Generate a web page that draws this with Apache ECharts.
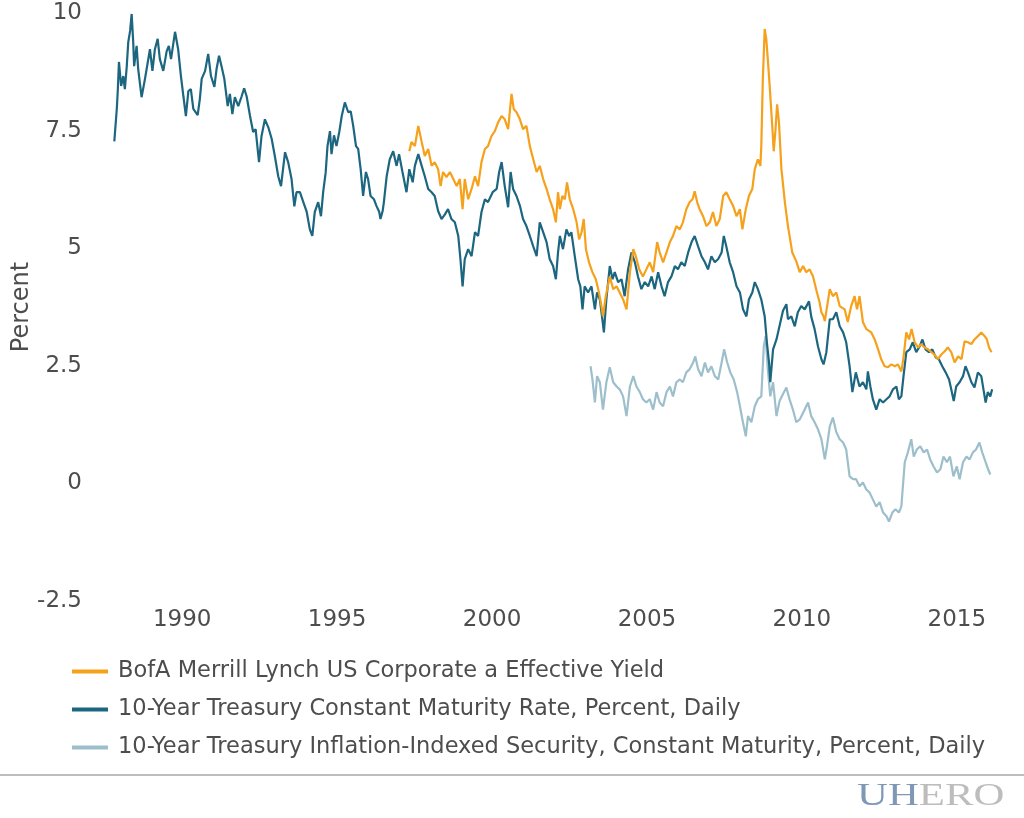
<!DOCTYPE html>
<html>
<head>
<meta charset="utf-8">
<script src="https://cdn.jsdelivr.net/npm/echarts@6/dist/echarts.min.js"></script>
<style>
html,body{margin:0;padding:0;background:#fff;}
#chart{width:1024px;height:818px;}
</style>
</head>
<body>
<div id="chart"></div>
<script>
// ---- Data (decimal years as placed on the chart, values in percent) ----
var seriesNames = [
  'BofA Merrill Lynch US Corporate a Effective Yield',
  '10-Year Treasury Constant Maturity Rate, Percent, Daily',
  '10-Year Treasury Inflation-Indexed Security, Constant Maturity, Percent, Daily'
];
var xTickLabels = [1990, 1995, 2000, 2005, 2010, 2015];
var yTickLabels = [-2.5, 0, 2.5, 5, 7.5, 10];

var corpYears = [1997.33,1997.40,1997.51,1997.62,1997.73,1997.83,1997.94,1998.05,1998.15,1998.26,1998.34,1998.42,1998.53,1998.64,1998.75,1998.86,1998.96,1999.05,1999.12,1999.23,1999.34,1999.45,1999.55,1999.66,1999.77,1999.87,1999.98,2000.09,2000.20,2000.31,2000.41,2000.52,2000.63,2000.70,2000.79,2000.90,2001.00,2001.11,2001.22,2001.33,2001.44,2001.54,2001.65,2001.76,2001.86,2001.97,2002.06,2002.13,2002.19,2002.27,2002.35,2002.42,2002.51,2002.62,2002.73,2002.81,2002.89,2002.96,2003.03,2003.13,2003.24,2003.35,2003.45,2003.53,2003.58,2003.67,2003.80,2003.91,2004.02,2004.12,2004.23,2004.34,2004.45,2004.56,2004.64,2004.75,2004.87,2004.98,2005.09,2005.20,2005.33,2005.41,2005.52,2005.63,2005.74,2005.84,2005.95,2006.06,2006.16,2006.27,2006.38,2006.47,2006.54,2006.62,2006.70,2006.81,2006.92,2007.03,2007.13,2007.24,2007.35,2007.46,2007.56,2007.67,2007.78,2007.89,2008.00,2008.08,2008.19,2008.29,2008.40,2008.48,2008.58,2008.66,2008.69,2008.74,2008.80,2008.85,2008.90,2008.96,2009.05,2009.09,2009.15,2009.20,2009.26,2009.34,2009.45,2009.55,2009.69,2009.82,2009.93,2010.04,2010.14,2010.25,2010.36,2010.47,2010.57,2010.63,2010.70,2010.74,2010.90,2011.00,2011.11,2011.22,2011.38,2011.48,2011.59,2011.70,2011.78,2011.86,2011.97,2012.08,2012.24,2012.35,2012.46,2012.56,2012.67,2012.78,2012.89,2013.00,2013.10,2013.21,2013.28,2013.37,2013.46,2013.54,2013.64,2013.75,2013.85,2013.96,2014.07,2014.18,2014.28,2014.39,2014.50,2014.61,2014.71,2014.82,2014.93,2015.04,2015.15,2015.25,2015.36,2015.47,2015.57,2015.68,2015.79,2015.90,2015.97,2016.04,2016.12];
var corpValues = [7.06,7.26,7.17,7.60,7.26,6.96,7.11,6.75,6.83,6.68,6.32,6.62,6.51,6.62,6.47,6.32,6.47,5.83,6.47,6.04,6.26,6.53,6.32,6.83,7.11,7.17,7.38,7.49,7.68,7.81,7.74,7.53,8.28,7.96,7.89,7.74,7.53,7.60,7.17,6.89,6.62,6.75,6.47,6.26,6.04,5.83,5.55,6.19,5.83,6.11,6.04,6.40,6.04,5.83,5.55,5.19,5.34,5.62,4.98,4.70,4.49,4.34,4.06,3.77,3.55,3.98,4.40,4.13,4.19,4.06,3.91,3.70,4.49,4.98,4.83,4.55,4.40,4.55,4.70,4.49,5.13,4.91,4.70,4.91,5.13,5.26,5.47,5.40,5.55,5.83,5.98,6.04,6.21,5.98,5.83,5.68,5.47,5.55,5.77,5.47,5.62,6.11,6.19,6.04,5.90,5.68,5.83,5.40,5.83,6.11,6.26,6.68,6.89,6.75,7.17,8.60,9.66,9.45,9.02,8.45,7.53,7.06,7.53,8.06,7.68,6.68,5.98,5.47,4.91,4.72,4.49,4.62,4.49,4.55,4.40,4.10,3.85,3.64,3.55,3.45,4.13,3.98,4.06,3.77,3.70,3.43,3.77,3.98,3.70,3.98,3.43,3.28,3.21,3.06,2.85,2.64,2.49,2.47,2.53,2.49,2.53,2.38,2.68,3.21,3.06,3.28,3.00,2.89,2.96,2.89,2.85,2.79,2.74,2.64,2.74,2.81,2.89,2.79,2.57,2.70,2.64,3.02,3.00,2.96,3.06,3.13,3.21,3.13,3.06,2.89,2.79];

var tsyYears = [1987.81,1987.89,1987.92,1987.96,1988.03,1988.10,1988.15,1988.21,1988.26,1988.32,1988.37,1988.42,1988.45,1988.53,1988.58,1988.69,1988.80,1988.96,1989.04,1989.12,1989.21,1989.28,1989.39,1989.50,1989.57,1989.64,1989.77,1989.87,1989.96,1990.04,1990.12,1990.20,1990.28,1990.36,1990.50,1990.57,1990.63,1990.74,1990.84,1990.93,1991.04,1991.11,1991.19,1991.27,1991.36,1991.47,1991.54,1991.62,1991.70,1991.81,1991.92,1992.00,1992.08,1992.19,1992.29,1992.37,1992.48,1992.56,1992.67,1992.78,1992.89,1992.99,1993.10,1993.19,1993.32,1993.42,1993.53,1993.62,1993.69,1993.80,1993.91,1994.02,1994.12,1994.20,1994.28,1994.39,1994.48,1994.55,1994.63,1994.69,1994.77,1994.82,1994.90,1994.98,1995.07,1995.15,1995.25,1995.36,1995.44,1995.52,1995.61,1995.68,1995.76,1995.84,1995.93,1996.00,1996.08,1996.19,1996.27,1996.36,1996.40,1996.47,1996.51,1996.60,1996.70,1996.81,1996.92,1997.00,1997.11,1997.24,1997.33,1997.44,1997.51,1997.62,1997.73,1997.83,1997.94,1998.05,1998.15,1998.26,1998.37,1998.48,1998.58,1998.69,1998.80,1998.91,1998.98,1999.05,1999.12,1999.23,1999.34,1999.45,1999.55,1999.66,1999.77,1999.87,2000.02,2000.15,2000.23,2000.31,2000.41,2000.52,2000.60,2000.68,2000.79,2000.90,2001.00,2001.11,2001.22,2001.33,2001.44,2001.54,2001.65,2001.76,2001.86,2001.97,2002.06,2002.13,2002.19,2002.29,2002.40,2002.49,2002.56,2002.67,2002.78,2002.85,2002.92,2002.99,2003.10,2003.21,2003.32,2003.39,2003.48,2003.56,2003.61,2003.69,2003.80,2003.89,2003.96,2004.07,2004.18,2004.28,2004.39,2004.50,2004.61,2004.71,2004.82,2004.93,2005.04,2005.15,2005.25,2005.36,2005.47,2005.57,2005.68,2005.79,2005.90,2006.00,2006.11,2006.22,2006.33,2006.44,2006.54,2006.65,2006.76,2006.87,2006.97,2007.08,2007.19,2007.30,2007.41,2007.48,2007.56,2007.67,2007.78,2007.89,2008.00,2008.10,2008.21,2008.29,2008.40,2008.48,2008.58,2008.69,2008.80,2008.87,2008.94,2008.98,2009.07,2009.18,2009.28,2009.39,2009.50,2009.55,2009.66,2009.77,2009.87,2009.98,2010.09,2010.23,2010.30,2010.41,2010.52,2010.63,2010.70,2010.79,2010.90,2011.00,2011.11,2011.22,2011.33,2011.43,2011.54,2011.63,2011.74,2011.86,2011.97,2012.08,2012.13,2012.21,2012.29,2012.40,2012.51,2012.62,2012.73,2012.83,2012.94,2013.05,2013.13,2013.21,2013.28,2013.37,2013.48,2013.58,2013.69,2013.80,2013.89,2013.99,2014.10,2014.21,2014.32,2014.42,2014.53,2014.64,2014.75,2014.82,2014.90,2014.98,2015.09,2015.20,2015.28,2015.36,2015.47,2015.57,2015.68,2015.79,2015.86,2015.93,2016.00,2016.08,2016.14];
var tsyValues = [7.27,7.96,8.32,8.96,8.45,8.66,8.38,8.85,9.38,9.62,9.98,9.38,8.87,9.30,8.81,8.21,8.60,9.23,8.77,9.23,9.45,9.02,8.77,9.19,9.30,9.02,9.60,9.23,8.66,8.23,7.81,8.34,8.38,7.96,7.83,8.17,8.60,8.77,9.13,8.66,8.43,8.81,9.09,8.87,8.60,8.02,8.28,7.85,8.21,8.02,8.23,8.40,8.23,7.81,7.47,7.53,6.83,7.38,7.74,7.57,7.32,6.96,6.53,6.32,7.04,6.83,6.47,5.89,6.19,6.19,5.98,5.77,5.40,5.26,5.77,5.98,5.68,6.19,6.60,7.17,7.49,7.00,7.40,7.17,7.47,7.81,8.10,7.89,7.91,7.60,7.17,7.11,6.68,6.11,6.62,6.47,6.11,6.04,5.90,5.77,5.62,5.79,5.98,6.53,6.89,7.06,6.75,7.00,6.62,6.19,6.68,6.40,6.75,7.00,6.75,6.53,6.26,6.19,6.11,5.79,5.62,5.72,5.83,5.62,5.55,5.26,4.77,4.19,4.77,4.98,4.83,5.34,5.26,5.77,6.04,5.98,6.19,6.26,6.62,6.83,6.32,5.87,6.62,6.26,6.11,5.90,5.62,5.47,5.26,5.04,4.83,5.55,5.34,5.13,4.77,4.62,4.34,4.91,5.26,4.98,5.40,5.26,5.34,4.83,4.34,4.19,3.70,4.19,4.06,4.19,3.70,4.06,3.91,3.49,3.21,3.91,4.62,4.34,4.49,4.28,4.34,3.98,4.55,4.91,4.70,4.40,4.13,4.28,4.19,4.40,4.13,4.49,4.19,3.98,4.28,4.40,4.62,4.55,4.70,4.62,4.91,5.13,5.26,5.04,4.83,4.70,4.55,4.83,4.70,4.77,4.91,5.26,5.04,4.70,4.49,4.19,4.06,3.70,3.55,3.91,4.06,4.28,4.13,3.91,3.55,3.00,2.57,2.15,2.85,3.06,3.35,3.67,3.81,3.49,3.55,3.34,3.64,3.77,3.70,3.87,3.55,3.28,2.91,2.64,2.53,2.79,3.49,3.49,3.64,3.34,3.21,3.00,2.49,1.94,2.36,2.06,2.15,2.00,2.38,2.06,1.79,1.57,1.79,1.72,1.79,1.85,2.00,2.06,1.79,1.85,2.28,2.79,2.85,3.00,2.79,2.91,3.06,2.85,2.79,2.85,2.68,2.64,2.49,2.36,2.21,2.00,1.75,2.06,2.15,2.28,2.49,2.36,2.15,2.04,2.36,2.28,2.00,1.72,1.94,1.85,2.00];

var tipsYears = [2003.18,2003.24,2003.32,2003.39,2003.48,2003.58,2003.69,2003.80,2003.91,2004.02,2004.12,2004.23,2004.34,2004.45,2004.56,2004.66,2004.77,2004.87,2004.98,2005.09,2005.20,2005.31,2005.41,2005.52,2005.63,2005.74,2005.84,2005.95,2006.06,2006.16,2006.27,2006.38,2006.49,2006.56,2006.65,2006.76,2006.87,2006.97,2007.08,2007.19,2007.30,2007.41,2007.49,2007.59,2007.69,2007.80,2007.91,2008.00,2008.08,2008.19,2008.26,2008.37,2008.48,2008.58,2008.69,2008.77,2008.83,2008.90,2008.98,2009.07,2009.18,2009.28,2009.39,2009.50,2009.60,2009.71,2009.82,2009.93,2010.04,2010.20,2010.30,2010.41,2010.52,2010.63,2010.74,2010.81,2010.90,2011.00,2011.11,2011.22,2011.33,2011.43,2011.54,2011.65,2011.75,2011.86,2011.97,2012.08,2012.18,2012.29,2012.40,2012.51,2012.62,2012.73,2012.81,2012.92,2013.02,2013.13,2013.21,2013.26,2013.32,2013.42,2013.53,2013.61,2013.71,2013.82,2013.93,2014.04,2014.14,2014.25,2014.36,2014.47,2014.57,2014.68,2014.78,2014.89,2015.00,2015.09,2015.20,2015.31,2015.41,2015.52,2015.62,2015.73,2015.82,2015.93,2016.01,2016.08];
var tipsValues = [2.49,2.21,1.72,2.28,2.15,1.57,2.15,2.47,2.15,2.06,2.00,1.85,1.43,2.06,2.28,2.06,1.94,1.79,1.72,1.79,1.57,1.94,1.72,1.64,1.94,2.06,1.85,2.15,2.21,2.15,2.36,2.43,2.57,2.70,2.43,2.28,2.57,2.36,2.49,2.28,2.21,2.57,2.85,2.57,2.36,2.21,1.94,1.64,1.36,1.00,1.43,1.30,1.64,1.79,1.85,2.91,3.13,2.43,1.85,2.15,1.43,1.75,1.90,2.04,1.79,1.57,1.30,1.36,1.50,1.72,1.43,1.30,1.15,0.94,0.51,0.79,1.21,1.40,1.09,0.94,0.87,0.72,0.15,0.09,0.09,-0.06,0.02,-0.13,-0.19,-0.34,-0.49,-0.40,-0.62,-0.70,-0.81,-0.62,-0.55,-0.62,-0.49,-0.06,0.45,0.66,0.94,0.57,0.72,0.79,0.66,0.72,0.51,0.36,0.23,0.30,0.57,0.45,0.57,0.15,0.36,0.09,0.45,0.57,0.51,0.66,0.72,0.87,0.66,0.45,0.30,0.19];

function zip(xs, ys) { return xs.map(function (x, i) { return [x, ys[i]]; }); }

var colors = ['#F6A11C', '#1D6680', '#9DBFCC'];
var FONT = '"DejaVu Sans", sans-serif';

var chart = echarts.init(document.getElementById('chart'), null, { renderer: 'canvas' });
var lineSeries = [corpYears, tsyYears, tipsYears].map(function (xs, i) {
  var ys = [corpValues, tsyValues, tipsValues][i];
  return {
    name: seriesNames[i],
    type: 'line',
    data: zip(xs, ys),
    showSymbol: false,
    symbol: 'none',
    lineStyle: { width: 2.2, color: colors[i] },
    itemStyle: { color: colors[i] },
    z: [3, 2, 1][i]
  };
});

chart.setOption({
  animation: false,
  backgroundColor: '#ffffff',
  color: colors,
  grid: { left: 114, right: 30, top: 13, bottom: 217, containLabel: false },
  xAxis: {
    type: 'value',
    min: 1987.8,
    max: 2016.2,
    axisLine: { show: false },
    axisTick: { show: false },
    splitLine: { show: false },
    axisLabel: {
      customValues: xTickLabels,
      formatter: function (v) { return String(v); },
      color: '#4d4d4d',
      fontFamily: FONT,
      fontSize: 23,
      margin: 8
    }
  },
  yAxis: {
    type: 'value',
    min: -2.5,
    max: 10,
    interval: 2.5,
    name: 'Percent',
    nameLocation: 'middle',
    nameRotate: 90,
    nameGap: 80,
    nameMoveOverlap: false,
    nameTextStyle: { color: '#4d4d4d', fontFamily: FONT, fontSize: 24 },
    axisLine: { show: false },
    axisTick: { show: false },
    splitLine: { show: false },
    axisLabel: {
      formatter: function (v) { return yTickLabels.indexOf(v) >= 0 ? String(v) : ''; },
      color: '#4d4d4d',
      fontFamily: FONT,
      fontSize: 23,
      margin: 32
    }
  },
  legend: {
    orient: 'vertical',
    left: 67,
    top: 655,
    icon: 'rect',
    itemWidth: 36,
    itemHeight: 4,
    itemGap: 15,
    data: seriesNames,
    textStyle: { color: '#4d4d4d', fontFamily: FONT, fontSize: 22.5, lineHeight: 22, padding: [0, 0, 0, 5] },
    selectedMode: false
  },
  graphic: [
    {
      type: 'line',
      shape: { x1: 0, y1: 775, x2: 1024, y2: 775 },
      style: { stroke: '#bdbdbd', lineWidth: 2 },
      silent: true
    },
    {
      type: 'text',
      left: 857,
      top: 781,
      scaleX: 1.38,
      style: {
        text: '{a|UH}{b|ERO}',
        rich: {
          a: { fill: '#7F98B6', fontFamily: '"Liberation Serif", serif', fontSize: 31 },
          b: { fill: '#BDBDBD', fontFamily: '"Liberation Serif", serif', fontSize: 31 }
        }
      },
      silent: true
    }
  ],
  series: lineSeries
});
</script>
</body>
</html>
